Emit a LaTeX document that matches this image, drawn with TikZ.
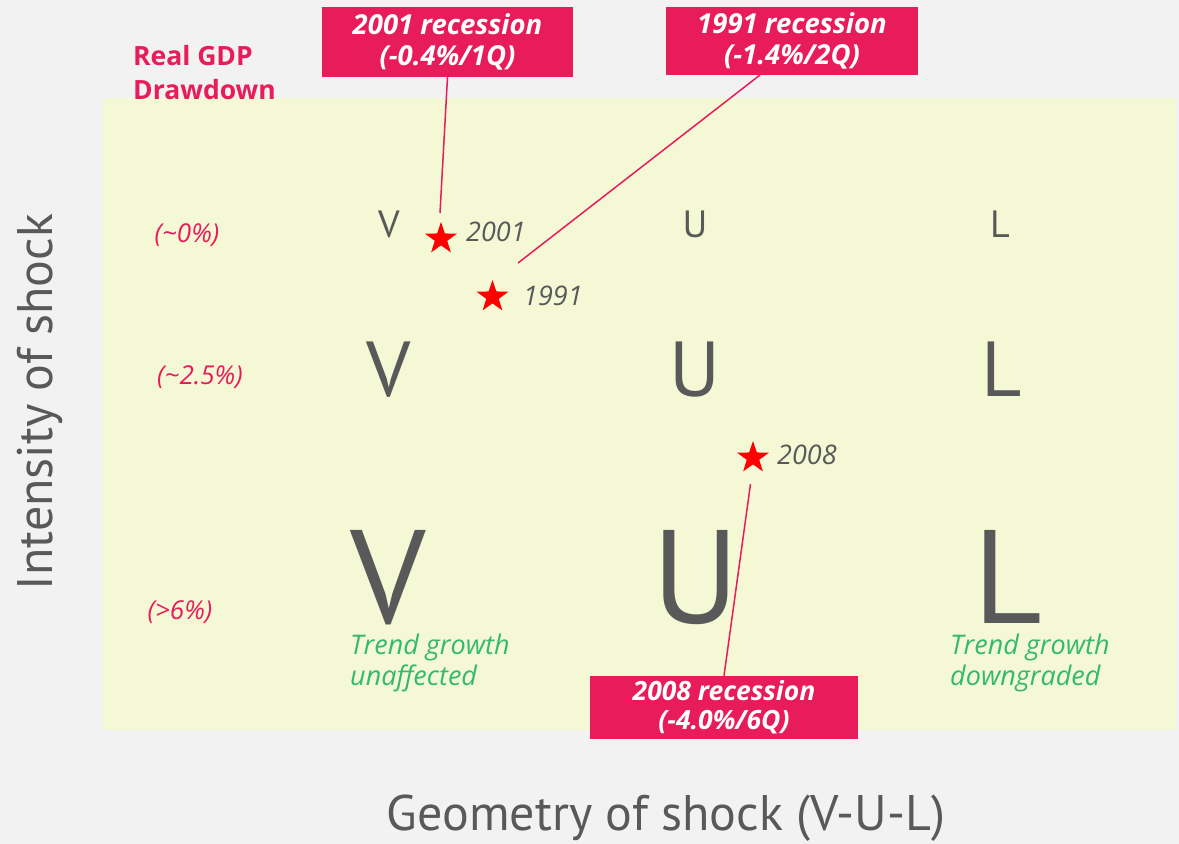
\documentclass[tikz,border=0pt]{standalone}
\usepackage{fontspec}
\setmainfont{PT Sans}
\newfontfamily\itfont{Open Sans}
\usetikzlibrary{shapes.geometric}
\definecolor{bgray}{HTML}{F2F2F2}
\definecolor{panel}{HTML}{F5F8D5}
\definecolor{pinkc}{HTML}{E81C5A}
\definecolor{lettc}{HTML}{595959}
\definecolor{greenc}{HTML}{35B870}
\tikzset{
  callout/.style={fill=pinkc, text=white, align=center, inner sep=0pt,
    font={\itfont\fontsize{27.5}{31}\selectfont\bfseries\itshape}},
  starmark/.style={star, star points=5, star point ratio=2.55, minimum size=33.6pt, inner sep=0pt, fill=red, draw=none},
  yearlbl/.style={text=lettc, anchor=base west, inner sep=0pt, font={\itfont\fontsize{27}{27}\selectfont\itshape}},
  rowlbl/.style={text=pinkc, anchor=base, inner sep=0pt, font={\itfont\fontsize{26}{26}\selectfont\itshape}},
  lett/.style={text=lettc, anchor=base, inner sep=0pt, text depth=0pt, font={\fontsize{#1}{#1}\selectfont}},
  greentxt/.style={text=greenc, anchor=base west, inner sep=0pt, font={\itfont\fontsize{27}{27}\selectfont\itshape}},
  hdrtxt/.style={text=pinkc, anchor=base west, inner sep=0pt, font={\itfont\fontsize{26.5}{26.5}\selectfont\bfseries}},
  axislbl/.style={text=lettc, inner sep=0pt, font={\fontsize{50}{50}\selectfont}},
  leader/.style={draw=pinkc, line width=1.5pt},
}
\begin{document}
\begin{tikzpicture}[x=1pt,y=-1pt]
\useasboundingbox (0,0) rectangle (1179,844);
\fill[bgray] (0,0) rectangle (1179,844);
\fill[panel] (103,98) rectangle (1176,730);

% header
\node[hdrtxt] (hdr1) at (133,65) {Real GDP};
\node[hdrtxt] (hdr2) at (133,99) {Drawdown};

% callout boxes
\node[callout, minimum width=251pt, minimum height=70pt] (b2001) at (447.5,42) {2001 recession\\(-0.4\%/1Q)};
\node[callout, minimum width=252pt, minimum height=68pt] (b1991) at (792,41) {1991 recession\\(-1.4\%/2Q)};
\node[callout, minimum width=268pt, minimum height=63pt, font={\itfont\fontsize{26.5}{29}\selectfont\bfseries\itshape}] (b2008) at (724,707.5) {2008 recession\\(-4.0\%/6Q)};

% row labels
\node[rowlbl] (r0) at (187,242) {(\textasciitilde0\%)};
\node[rowlbl] (r1) at (200,384) {(\textasciitilde2.5\%)};
\node[rowlbl] (r2) at (180,619) {(>6\%)};

% letters
\node[lett=38] (v1) at (389,237) {V};
\node[lett=38] (u1) at (695,237) {U};
\node[lett=38] (l1) at (1000,237) {L};
\node[lett=78] (v2) at (389,396) {V};
\node[lett=78] (u2) at (695,396) {U};
\node[lett=78] (l2) at (1002,396) {L};
\node[lett=133] (v3) at (388,623) {V};
\node[lett=133] (u3) at (696,623) {U};
\node[lett=133] (l3) at (1008,623) {L};

% stars and years
\node[starmark] (s2001) at (441,238.8) {};
\node[starmark] (s1991) at (492.5,296.8) {};
\node[starmark] (s2008) at (753,457.8) {};
\node[yearlbl] (y2001) at (466,241) {2001};
\node[yearlbl] (y1991) at (523,305) {1991};
\node[yearlbl] (y2008) at (777,464) {2008};

% green notes
\node[greentxt] (g1a) at (350,654) {Trend growth};
\node[greentxt] (g1b) at (350,685) {unaffected};
\node[greentxt] (g2a) at (950,654) {Trend growth};
\node[greentxt] (g2b) at (950,685) {downgraded};

% leaders
\coordinate (e2001) at (440,213);
\coordinate (t1991) at (760,75);
\coordinate (e1991) at (518,263);
\coordinate (e2008) at (750.5,484);
\draw[leader] (b2001.south) -- (e2001);
\draw[leader] (t1991) -- (e1991);
\draw[leader] (b2008.north) -- (e2008);

% axis labels
\node[axislbl, rotate=90] (ylab) at (40,402) {Intensity of shock};
\node[axislbl] (xlab) at (666,818) {Geometry of shock (V-U-L)};
\end{tikzpicture}
\end{document}
